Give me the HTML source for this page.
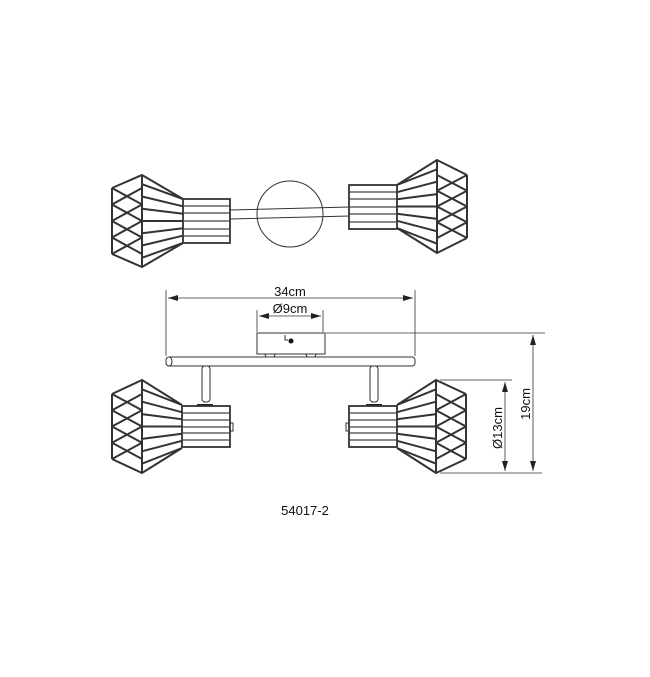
<!DOCTYPE html>
<html><head><meta charset="utf-8"><style>
html,body{margin:0;padding:0;background:#fff;}
svg{display:block;}
text{font-family:"Liberation Sans",sans-serif;fill:#111;}
</style></head><body>
<svg width="650" height="677" viewBox="0 0 650 677" xmlns="http://www.w3.org/2000/svg">
<defs>
<marker id="a" viewBox="0 0 10 6" refX="10" refY="3" markerWidth="10" markerHeight="6" orient="auto-start-reverse" markerUnits="userSpaceOnUse"><path d="M0,0 L10,3 L0,6 z" fill="#222"/></marker>
</defs>
<g fill="none" stroke="#333" stroke-width="1">
<circle cx="290" cy="214" r="33" fill="#fff"/>
<path d="M230,210 L350,207 M230,219 L350,216"/>
<rect x="183" y="199" width="47" height="44" fill="#fff" stroke-width="1.8"/>
<path d="M183,206 H230 M183,213 H230 M183,221 H230 M183,229 H230 M183,236 H230" stroke="#444" stroke-width="1.3"/>
<rect x="349" y="185" width="48" height="44" fill="#fff" stroke-width="1.8"/>
<path d="M349,192 H397 M349,199 H397 M349,207 H397 M349,214 H397 M349,222 H397" stroke="#444" stroke-width="1.3"/>
<rect x="257" y="333" width="68" height="21" fill="#fff"/>
<path d="M265,354 a5,4 0 0 0 10,0 M306,354 a5,4 0 0 0 10,0"/>
<path d="M285,335 v5 h3"/>
<circle cx="291" cy="341" r="2.5" fill="#111" stroke="none"/>
<rect x="166" y="357" width="249" height="9" rx="3" fill="#fff"/>
<path d="M169,357 a3,4.5 0 0 1 0,9"/>
<rect x="202" y="366" width="8" height="36" rx="3" fill="#fff"/>
<rect x="370" y="366" width="8" height="36" rx="3" fill="#fff"/>
<rect x="197" y="404" width="16" height="3" fill="#222" stroke="none"/>
<rect x="366" y="404" width="16" height="3" fill="#222" stroke="none"/>
<rect x="182" y="406" width="48" height="41" fill="#fff" stroke-width="1.8"/>
<path d="M182,413 H230 M182,420 H230 M182,427 H230 M182,433 H230 M182,440 H230" stroke="#444" stroke-width="1.3"/>
<rect x="349" y="406" width="48" height="41" fill="#fff" stroke-width="1.8"/>
<path d="M349,413 H397 M349,420 H397 M349,427 H397 M349,433 H397 M349,440 H397" stroke="#444" stroke-width="1.3"/>
<path d="M230,423 h3 v8 h-3 M349,423 h-3 v8 h3"/>
<g stroke="#333" stroke-width="2">
<path d="M112,188 L142,175 L183,199 M112,254 L142,267 L183,243 M112,188 V254 M142,175 V267
M142,184.2 L183,199 M142,196.5 L183,206.3 M142,208.7 L183,213.7 M142,221 L183,221 M142,233.3 L183,228.3 M142,245.5 L183,235.7 M142,257.8 L183,243
M112,188 L142,204.5 M112,204.5 L142,188 M112,204.5 L142,221 M112,221 L142,204.5 M112,221 L142,237.5 M112,237.5 L142,221 M112,237.5 L142,254 M112,254 L142,237.5"/>
<path d="M467,175 L437,160 L397,185 M467,238 L437,253 L397,228 M467,175 V238 M437,160 V253
M437,169.3 L397,185 M437,181.7 L397,192.2 M437,194.1 L397,199.3 M437,206.5 L397,206.5 M437,218.9 L397,213.7 M437,231.3 L397,220.8 M437,243.7 L397,228
M467,175 L437,190.75 M467,190.75 L437,175 M467,190.75 L437,206.5 M467,206.5 L437,190.75 M467,206.5 L437,222.25 M467,222.25 L437,206.5 M467,222.25 L437,238 M467,238 L437,222.25"/>
<path d="M112,394 L142,380 L182,405 M112,459 L142,473 L182,448 M112,394 V459 M142,380 V473
M142,389.3 L182,405 M142,401.7 L182,412.2 M142,414.1 L182,419.3 M142,426.5 L182,426.5 M142,438.9 L182,433.7 M142,451.3 L182,440.8 M142,463.7 L182,448
M112,394 L142,410.25 M112,410.25 L142,394 M112,410.25 L142,426.5 M112,426.5 L142,410.25 M112,426.5 L142,442.75 M112,442.75 L142,426.5 M112,442.75 L142,459 M112,459 L142,442.75"/>
<path d="M466,394 L436,380 L397,405 M466,459 L436,473 L397,448 M466,394 V459 M436,380 V473
M436,389.3 L397,405 M436,401.7 L397,412.2 M436,414.1 L397,419.3 M436,426.5 L397,426.5 M436,438.9 L397,433.7 M436,451.3 L397,440.8 M436,463.7 L397,448
M466,394 L436,410.25 M466,410.25 L436,394 M466,410.25 L436,426.5 M466,426.5 L436,410.25 M466,426.5 L436,442.75 M466,442.75 L436,426.5 M466,442.75 L436,459 M466,459 L436,442.75"/>
</g>
</g>
<g stroke="#333" stroke-width="0.8" fill="none">
<path d="M166,290 V356 M415,290 V356 M257,310 V332 M323,310 V332"/>
<path d="M168,298 H413" marker-start="url(#a)" marker-end="url(#a)"/>
<path d="M259,316 H321" marker-start="url(#a)" marker-end="url(#a)"/>
<path d="M326,333 H545 M440,380 H512 M440,473 H542"/>
<path d="M533,335 V471" marker-start="url(#a)" marker-end="url(#a)"/>
<path d="M505,382 V471" marker-start="url(#a)" marker-end="url(#a)"/>
</g>
<text x="290" y="296" font-size="13" text-anchor="middle">34cm</text>
<text x="290" y="313" font-size="13" text-anchor="middle">Ø9cm</text>
<text transform="translate(502,428) rotate(-90)" font-size="13" text-anchor="middle">Ø13cm</text>
<text transform="translate(530,404) rotate(-90)" font-size="13" text-anchor="middle">19cm</text>
<text x="305" y="515" font-size="13" text-anchor="middle">54017-2</text>
</svg>
</body></html>
